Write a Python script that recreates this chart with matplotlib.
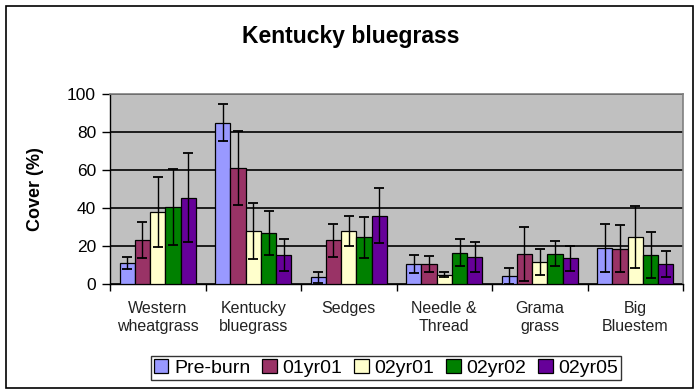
import matplotlib
matplotlib.use("Agg")
import matplotlib.pyplot as plt
import numpy as np
from matplotlib.patches import Rectangle

plt.rcParams['font.family'] = ['Liberation Sans', 'DejaVu Sans']

categories = ["Western\nwheatgrass", "Kentucky\nbluegrass", "Sedges",
              "Needle &\nThread", "Grama\ngrass", "Big\nBluestem"]
series = ["Pre-burn", "01yr01", "02yr01", "02yr02", "02yr05"]
colors = ["#9999FF", "#993366", "#FFFFCC", "#008000", "#660099"]

pre_burn = [11, 85, 3.5, 10.5, 4, 19]
yr01_01 = [23, 61, 23, 10.5, 16, 18.5]
yr02_01 = [38, 28, 28, 5, 11.5, 24.5]
yr02_02 = [40.5, 27, 24.5, 16.5, 16, 15.5]
yr02_05 = [45.5, 15.5, 36, 14, 13.5, 10.5]
values = [pre_burn, yr01_01, yr02_01, yr02_02, yr02_05]

err_pre_burn = [3, 9.7, 3, 4.7, 4.2, 12.6]
err_yr01_01 = [9.5, 19.3, 8.6, 4, 14.2, 12.4]
err_yr02_01 = [18.5, 14.7, 7.9, 1.2, 6.8, 16.3]
err_yr02_02 = [20, 11.6, 11, 7.2, 6.7, 12.1]
err_yr02_05 = [23.4, 8.4, 14.6, 7.9, 6.7, 7]
errors = [err_pre_burn, err_yr01_01, err_yr02_01, err_yr02_02, err_yr02_05]

yticks = [0, 20, 40, 60, 80, 100]

fig = plt.figure(figsize=(6.95, 3.92), dpi=100)
ax = fig.add_axes([110/695, 1-284/392, (683-110)/695, (284-94)/392])
ax.set_facecolor("#C0C0C0")

x = np.arange(len(categories)) + 0.5
w = 0.16
for i, (s, c, v, e) in enumerate(zip(series, colors, values, errors)):
    pos = x + (i - 2) * w
    ax.bar(pos, v, width=w, color=c, edgecolor="black", linewidth=0.9,
           label=s, zorder=3)
    ax.errorbar(pos, v, yerr=e, fmt="none", ecolor="black", elinewidth=1.0,
                capsize=3.5, capthick=1.3, zorder=4)

ax.set_xlim(0, len(categories))
ax.set_ylim(0, 100)
ax.set_yticks(yticks)
ax.set_yticklabels([str(t) for t in yticks], fontsize=12.5)
ax.yaxis.grid(True, color="black", linewidth=1.2, zorder=1)
ax.set_axisbelow(True)

ax.set_xticks(x)
ax.set_xticklabels(categories, fontsize=11.5, color="#222222", linespacing=1.3)
ax.set_xticks(np.arange(len(categories) + 1), minor=True)
ax.tick_params(axis="x", which="major", length=0, pad=12)
ax.tick_params(axis="x", which="minor", length=5, width=1, direction="out")
ax.tick_params(axis="y", length=6, width=1, direction="out", pad=4)

for sp in ["top", "right"]:
    ax.spines[sp].set_color("#808080")
    ax.spines[sp].set_linewidth(1.2)
for sp in ["left", "bottom"]:
    ax.spines[sp].set_color("black")
    ax.spines[sp].set_linewidth(1.0)

ax.set_ylabel("Cover (%)", fontsize=13, fontweight="bold")
ax.yaxis.set_label_coords(-(110-44)/573, 0.5)

fig.text(351/695, 1-37/392, "Kentucky bluegrass", fontsize=16.5,
         fontweight="bold", ha="center", va="center")

leg = fig.legend(loc="center", bbox_to_anchor=(386/695, 1-368/392), ncol=5,
                 fontsize=14, frameon=True, fancybox=False,
                 handlelength=0.75, handleheight=0.75, handletextpad=0.3,
                 columnspacing=0.6, borderpad=0.15, borderaxespad=0)
leg.get_frame().set_edgecolor("black")
leg.get_frame().set_linewidth(1.0)

fig.patches.append(Rectangle((6/695, 1-388/392), (693-6)/695, (388-6)/392,
                             transform=fig.transFigure, fill=False,
                             edgecolor="black", linewidth=1.2))

fig.savefig("out.png", dpi=100)
